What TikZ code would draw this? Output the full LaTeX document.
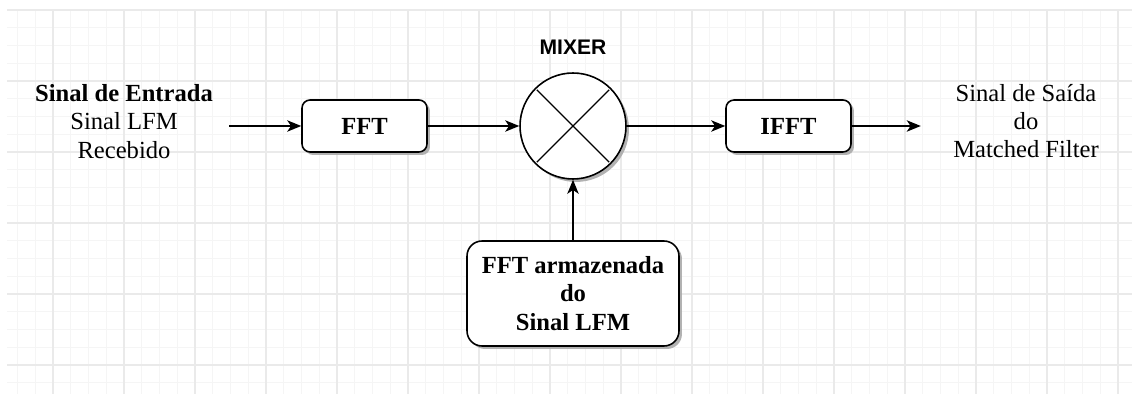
\documentclass[tikz,border=0pt]{standalone}
\usepackage{fontspec}
\setmainfont{Liberation Serif}
\newfontfamily\mixfont{Liberation Sans}
\usepackage{tikz}
\usetikzlibrary{arrows.meta,positioning,shadows}
\usepackage{xcolor}
\definecolor{minorgrid}{RGB}{245,245,245}
\definecolor{majorgrid}{RGB}{234,234,234}
\definecolor{shadowgray}{RGB}{170,170,170}

\begin{document}
\begin{tikzpicture}[x=0.02cm, y=-0.02cm,
    block/.style={draw, line width=0.9pt, fill=white, rounded corners=0.16cm,
        minimum width=2.5cm, minimum height=1.04cm, align=center,
        font=\fontsize{14}{16}\selectfont\bfseries,
        drop shadow={shadow xshift=1.7pt, shadow yshift=-1.7pt, fill=shadowgray, opacity=0.9}},
    sigtext/.style={align=center, font=\fontsize{14}{16}\selectfont},
    arr/.style={-{Stealth[length=8pt,width=6.5pt,inset=2.2pt]}, line width=0.75pt}]

    % Background and grid
    \fill[white] (0,0) rectangle (1132,394);
    \useasboundingbox (0,0) rectangle (1132,394);
    \foreach \i in {0,...,62}
        \draw[minorgrid, line width=0.6pt] ({17.5+17.75*\i},10) -- ({17.5+17.75*\i},394);
    \foreach \j in {0,...,21}
        \draw[minorgrid, line width=0.6pt] (7,{10+17.75*\j}) -- (1132,{10+17.75*\j});
    \foreach \k in {0,...,15}
        \draw[majorgrid, line width=0.6pt] ({53+71*\k},10) -- ({53+71*\k},394);
    \foreach \k in {0,...,5}
        \draw[majorgrid, line width=0.6pt] (7,{10+71*\k}) -- (1132,{10+71*\k});

    % Input signal
    \node[sigtext] (in) at (124,121.5) {\textbf{Sinal de Entrada}\\Sinal LFM\\Recebido};

    % Blocks
    \node[block] (fft) at (364.5,126) {FFT};
    \node[draw, circle, line width=0.9pt, fill=white, minimum size=2.12cm, inner sep=0pt,
        drop shadow={shadow xshift=1.7pt, shadow yshift=-1.7pt, fill=shadowgray, opacity=0.9}]
        (mix) at (573,126) {};
    \draw[line width=0.75pt, shorten >=1.5pt, shorten <=1.5pt] (mix.45) -- (mix.225);
    \draw[line width=0.75pt, shorten >=1.5pt, shorten <=1.5pt] (mix.135) -- (mix.315);
    \node[above=0.23cm of mix, font=\mixfont\fontsize{12}{14}\selectfont\bfseries] (mixlabel) {MIXER};
    \node[block] (ifft) at (788.5,126) {IFFT};
    \node[block, minimum width=4.24cm, minimum height=2.1cm, rounded corners=0.3cm]
        (store) at (573,293.5) {FFT armazenada\\do\\Sinal LFM};

    % Output signal
    \node[sigtext] (out) at (1026,121) {Sinal de Saída\\do\\Matched Filter};

    % Connections
    \coordinate[left=1.44cm of fft.west] (src);
    \coordinate[right=1.38cm of ifft.east] (sink);
    \draw[arr] (src) -- (fft);
    \draw[arr] (fft) -- (mix);
    \draw[arr] (mix) -- (ifft);
    \draw[arr] (ifft) -- (sink);
    \draw[arr] (store) -- (mix);
\end{tikzpicture}
\end{document}
